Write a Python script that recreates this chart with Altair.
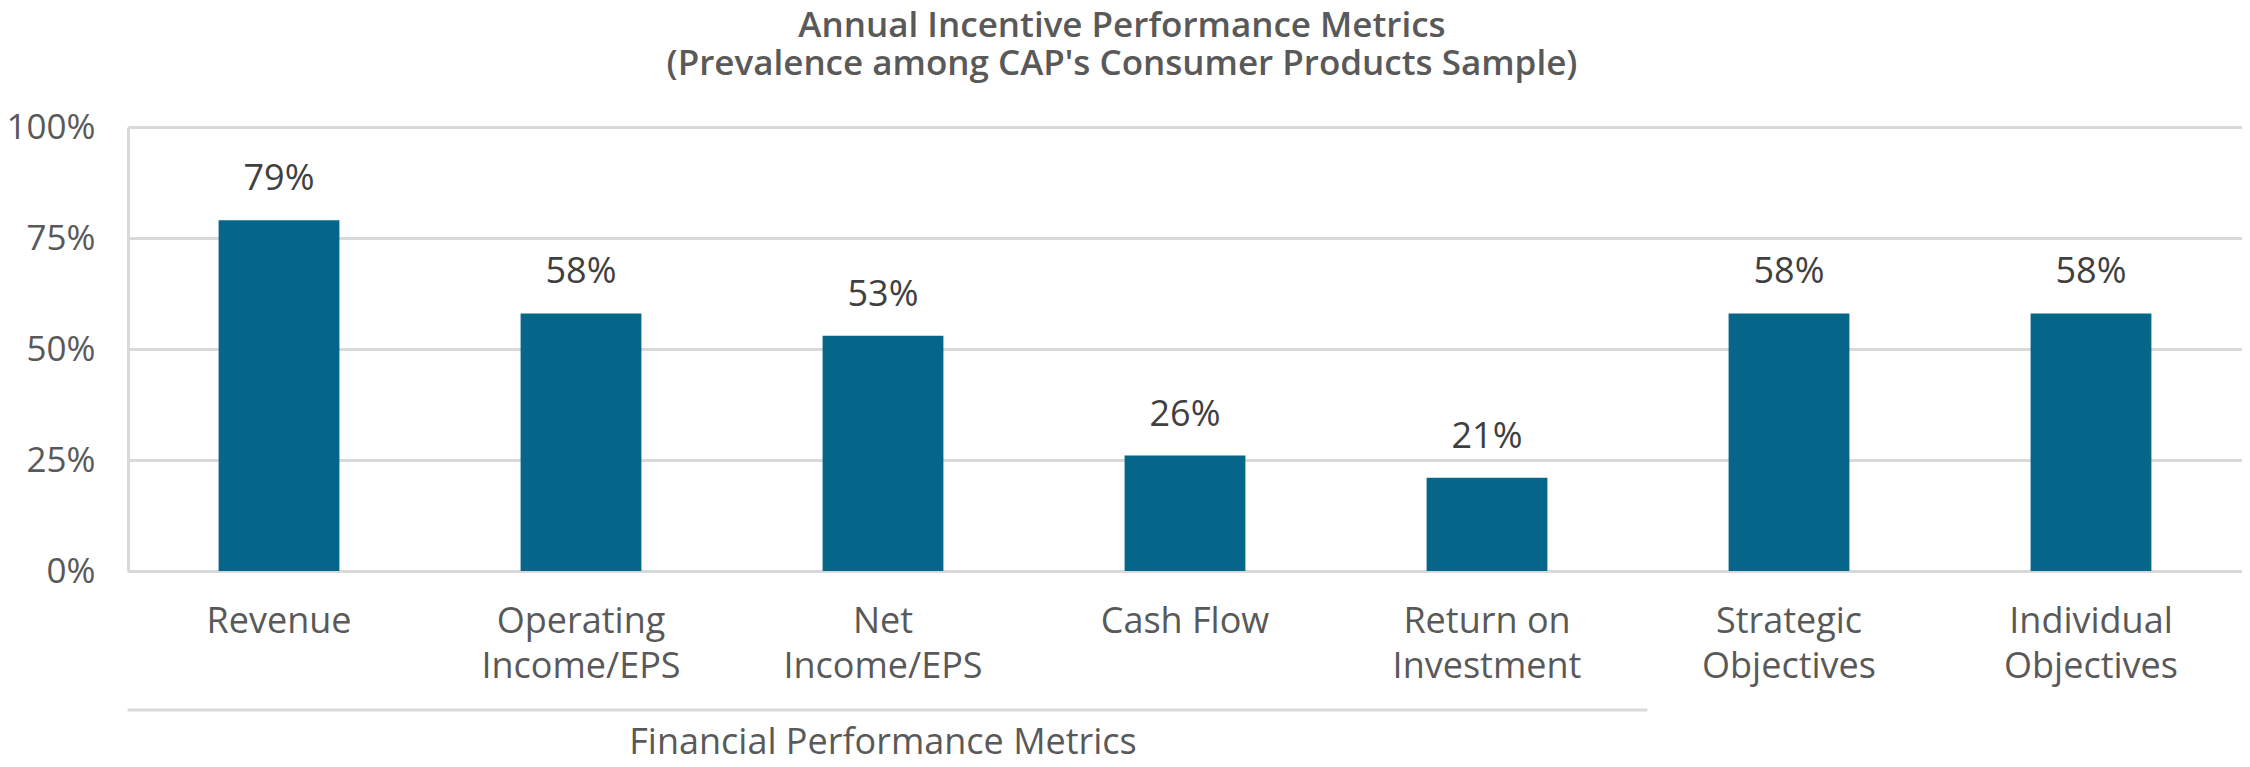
import altair as alt
import pandas as pd

categories = ["Revenue", "Operating\nIncome/EPS", "Net\nIncome/EPS", "Cash Flow",
              "Return on\nInvestment", "Strategic\nObjectives", "Individual\nObjectives"]
values = [0.79, 0.58, 0.53, 0.26, 0.21, 0.58, 0.58]
y_ticks = [0, 0.25, 0.5, 0.75, 1.0]
title_lines = ["Annual Incentive Performance Metrics",
               "(Prevalence among CAP's Consumer Products Sample)"]
group_label = "Financial Performance Metrics"
group_start = "Revenue"
group_end = "Return on\nInvestment"
group_mid = "Net\nIncome/EPS"

FONT = "Open Sans"
GRID = "#d9d9d9"
TXT = "#595959"
BAR = "#05668a"

df = pd.DataFrame({"cat": categories, "val": values})
grp = pd.DataFrame({"start": [group_start], "end": [group_end], "mid": [group_mid], "label": [group_label]})

xscale = alt.Scale(domain=categories, paddingInner=0.6, paddingOuter=0.3)

x_enc = alt.X("cat:N", sort=categories, scale=xscale,
              axis=alt.Axis(title=None, labelExpr="split(datum.label, '\\n')",
                            labelFont=FONT, labelFontSize=36, labelColor=TXT,
                            labelBaseline="alphabetic", labelPadding=61, labelLineHeight=45,
                            labelAngle=0, ticks=False, domainColor=GRID, domainWidth=3,
                            labelLimit=400))

bars = alt.Chart(df).mark_bar(color=BAR).encode(
    x=x_enc,
    y=alt.Y("val:Q", scale=alt.Scale(domain=[0, 1]),
            axis=alt.Axis(title=None, values=y_ticks, format=".0%", labelFont=FONT,
                          labelFontSize=35, labelColor=TXT, labelPadding=33, ticks=False,
                          domainColor=GRID, domainWidth=3, gridColor=GRID, gridWidth=3,
                          labelBaseline="middle")),
)

labels = alt.Chart(df).mark_text(font=FONT, fontSize=36, color="#404040",
                                 baseline="alphabetic", dy=-30).encode(
    x=alt.X("cat:N", sort=categories, scale=xscale),
    y=alt.Y("val:Q"),
    text=alt.Text("val:Q", format=".0%"),
)

bracket = alt.Chart(grp).mark_rule(color=GRID, strokeWidth=3, xOffset=-91, x2Offset=100).encode(
    x=alt.X("start:N", scale=xscale, bandPosition=0),
    x2=alt.X2("end:N", bandPosition=1),
    y=alt.value(583),
)

group_text = alt.Chart(grp).mark_text(font=FONT, fontSize=36, color=TXT,
                                      baseline="alphabetic").encode(
    x=alt.X("mid:N", scale=xscale),
    y=alt.value(627),
    text="label:N",
)

chart = alt.layer(bars, labels, bracket, group_text).properties(
    width=2114, height=444,
    autosize=alt.AutoSizeParams(type="none"),
    padding={"left": 120, "top": 119, "right": 0, "bottom": 188},
    title=alt.TitleParams(text=title_lines, font=FONT, fontSize=35, fontWeight=600,
                          color=TXT, lineHeight=38, anchor="middle", dx=-63, dy=55,
                          baseline="bottom", offset=48, frame="group"),
).configure_view(stroke=None).configure(background="white")

chart.save("out.html", embed_options={"renderer": "svg", "actions": False})
